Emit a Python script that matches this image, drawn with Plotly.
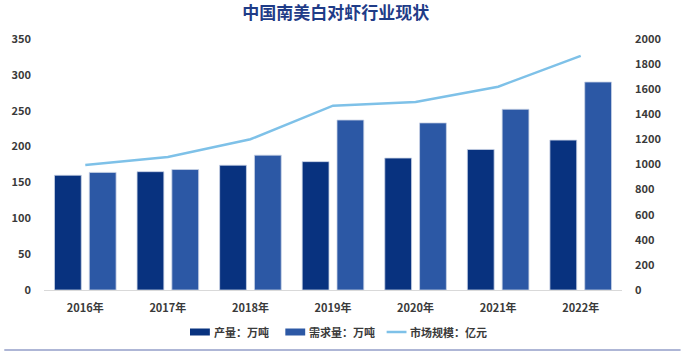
import plotly.graph_objects as go

years = ["2016年", "2017年", "2018年", "2019年", "2020年", "2021年", "2022年"]
production = [160, 165, 174, 179, 184, 196, 209]
demand = [164, 168, 188, 237, 233, 252, 290]
market = [996, 1060, 1201, 1469, 1498, 1620, 1865]
legend_names = ["产量：万吨", "需求量：万吨", "市场规模：亿元"]

FONT = "Noto Sans CJK SC"
C_PROD = "#08327F"
C_DEM = "#2C58A5"
C_LINE = "#7EC1E8"
TICK = "#3A3A3A"

W, H = 681, 353
ML, MR, MT, MB = 40, 59, 39, 63
PW, PH = W - ML - MR, H - MT - MB

def px_x(x):
    return (x - ML) / PW

def px_y(y):
    return (H - MB - y) / PH

fig = go.Figure()
fig.add_trace(go.Bar(x=years, y=production, name=legend_names[0],
                     marker=dict(color=C_PROD, line=dict(color="#C9D3E6", width=0.8))))
fig.add_trace(go.Bar(x=years, y=demand, name=legend_names[1],
                     marker=dict(color=C_DEM, line=dict(color="#C9D3E6", width=0.8))))
fig.add_trace(go.Scatter(x=years, y=market, name=legend_names[2], yaxis="y2",
                         mode="lines", line=dict(color=C_LINE, width=2.5)))

# manual legend (swatch positions in pixels)
legend_y = 332
swatches = [(187, 207, C_PROD, "bar"), (283, 303, C_DEM, "bar"), (385, 405, C_LINE, "line")]
shapes = []
annotations = []
for (x0, x1, col, kind), name in zip(swatches, legend_names):
    if kind == "bar":
        shapes.append(dict(type="rect", xref="paper", yref="paper",
                           x0=px_x(x0), x1=px_x(x1), y0=px_y(legend_y + 3.5), y1=px_y(legend_y - 3.5),
                           fillcolor=col, line=dict(width=0)))
    else:
        shapes.append(dict(type="line", xref="paper", yref="paper",
                           x0=px_x(x0), x1=px_x(x1), y0=px_y(legend_y), y1=px_y(legend_y),
                           line=dict(color=col, width=2.5)))
    annotations.append(dict(text=name, xref="paper", yref="paper", x=px_x(x1 + 2), y=px_y(legend_y),
                            xanchor="left", yanchor="middle", showarrow=False,
                            font=dict(family=FONT, size=11, color=TICK, weight="bold")))

shapes.append(dict(type="line", xref="paper", yref="paper", x0=px_x(0), x1=px_x(W),
                   y0=px_y(350), y1=px_y(350), line=dict(color="#AEB6D6", width=2)))

fig.update_layout(
    width=W, height=H,
    margin=dict(l=ML, r=MR, t=MT, b=MB),
    paper_bgcolor="white", plot_bgcolor="white",
    font=dict(family=FONT, size=11, color=TICK),
    title=dict(text="<b>中国南美白对虾行业现状</b>", x=0.493, xanchor="center",
               y=0.962, yanchor="middle",
               font=dict(family=FONT, size=17, color="#1F3C88")),
    barmode="group", bargap=0.157, bargroupgap=0.23,
    showlegend=False,
    xaxis=dict(showgrid=False, showline=True, linecolor="#D9D9D9", linewidth=1,
               ticks="", ticklabelstandoff=8,
               tickfont=dict(family=FONT, size=11, color=TICK, weight="bold")),
    yaxis=dict(range=[0, 350], dtick=50, showgrid=False, zeroline=False, showline=False,
               ticks="", ticklabelstandoff=12,
               tickfont=dict(family=FONT, size=11, color=TICK, weight="bold")),
    yaxis2=dict(range=[0, 2000], dtick=200, overlaying="y", side="right",
                showgrid=False, zeroline=False, showline=False,
                ticks="", ticklabelstandoff=12,
                tickfont=dict(family=FONT, size=11, color=TICK, weight="bold")),
    shapes=shapes,
    annotations=annotations,
)

fig.write_html("out.html")
